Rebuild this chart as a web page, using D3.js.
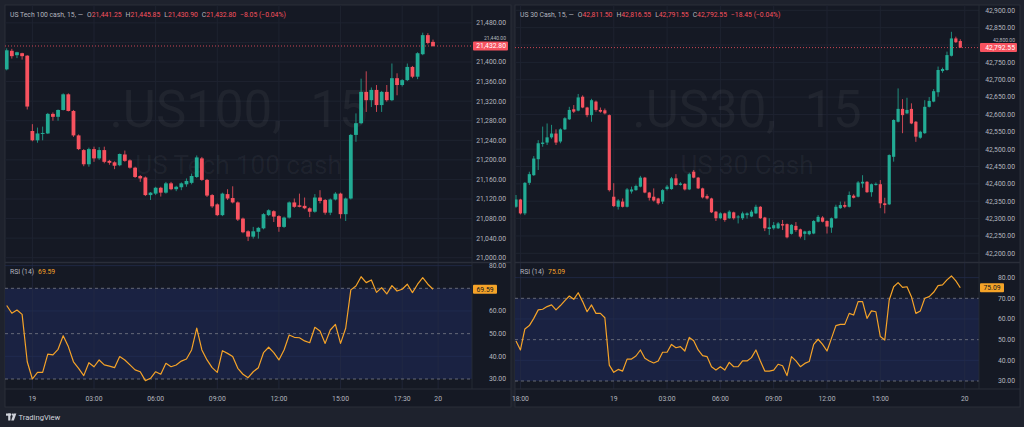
<!DOCTYPE html>
<html>
<head>
<meta charset="utf-8">
<script src="https://cdn.jsdelivr.net/npm/d3@7"></script>
<style>
html, body { margin: 0; padding: 0; background: #1e222d; }
svg { display: block; font-family: Roboto, "Liberation Sans", sans-serif; }
</style>
</head>
<body>
<div id="main"></div>
<script>
// US Tech 100 cash, 15 min candles [open, high, low, close]
var nasCandles = [
  [21385, 21428, 21383, 21424], [21423, 21427, 21407, 21412], [21414, 21421, 21408, 21420], [21418, 21419, 21405, 21412],
  [21413, 21414, 21303, 21309], [21259, 21273, 21238, 21240], [21240, 21266, 21235, 21254], [21253, 21268, 21240, 21255],
  [21254, 21296, 21253, 21294], [21294, 21297, 21280, 21288], [21288, 21303, 21280, 21302], [21302, 21336, 21301, 21334],
  [21334, 21336, 21299, 21300], [21300, 21302, 21247, 21250], [21250, 21252, 21220, 21222], [21220, 21222, 21187, 21191],
  [21191, 21225, 21186, 21222], [21222, 21227, 21196, 21203], [21203, 21226, 21200, 21220], [21220, 21227, 21193, 21196],
  [21198, 21200, 21190, 21194], [21195, 21197, 21181, 21188], [21189, 21213, 21187, 21212], [21211, 21219, 21196, 21198],
  [21199, 21201, 21182, 21184], [21184, 21186, 21163, 21165], [21167, 21169, 21155, 21162], [21164, 21166, 21126, 21128],
  [21128, 21134, 21118, 21133], [21131, 21145, 21128, 21143], [21143, 21145, 21125, 21133], [21133, 21155, 21131, 21152],
  [21152, 21155, 21138, 21140], [21140, 21147, 21136, 21145], [21144, 21154, 21138, 21152], [21150, 21162, 21145, 21157],
  [21153, 21172, 21150, 21167], [21165, 21209, 21163, 21205], [21203, 21206, 21157, 21159], [21159, 21161, 21124, 21127],
  [21128, 21130, 21102, 21105], [21109, 21111, 21085, 21087], [21087, 21133, 21085, 21131], [21130, 21140, 21118, 21121],
  [21122, 21146, 21111, 21113], [21113, 21115, 21075, 21078], [21080, 21082, 21050, 21052], [21054, 21056, 21034, 21043],
  [21043, 21063, 21039, 21054], [21053, 21063, 21039, 21061], [21060, 21091, 21058, 21089], [21087, 21099, 21085, 21097],
  [21095, 21097, 21073, 21084], [21085, 21087, 21053, 21063], [21063, 21084, 21061, 21082], [21082, 21115, 21080, 21113],
  [21113, 21121, 21102, 21104], [21107, 21131, 21103, 21104], [21106, 21123, 21099, 21101], [21101, 21103, 21083, 21094],
  [21094, 21130, 21092, 21123], [21123, 21138, 21111, 21116], [21118, 21120, 21088, 21092], [21092, 21121, 21087, 21119],
  [21119, 21134, 21117, 21131], [21131, 21133, 21080, 21089], [21089, 21123, 21075, 21121], [21121, 21253, 21119, 21251],
  [21251, 21295, 21237, 21275], [21275, 21366, 21273, 21339], [21339, 21381, 21298, 21322], [21322, 21348, 21308, 21343],
  [21343, 21353, 21298, 21312], [21312, 21341, 21298, 21339], [21339, 21353, 21319, 21322], [21322, 21397, 21320, 21367],
  [21367, 21377, 21332, 21353], [21353, 21365, 21350, 21363], [21363, 21397, 21361, 21390], [21390, 21392, 21367, 21370],
  [21370, 21420, 21365, 21418], [21416, 21460, 21414, 21455], [21455, 21459, 21436, 21439], [21441.25, 21445.85, 21430.90, 21432.80]
];
var nasRsi = [
  62.4, 59.0, 60.4, 58.5, 37.6, 30.0, 32.9, 32.9, 41.0, 40.6,
  43.1, 49.1, 44.3, 37.6, 34.7, 31.5, 37.2, 35.4, 38.4, 36.2,
  35.7, 35.0, 39.9, 38.4, 36.2, 34.0, 33.2, 29.3, 30.3, 33.2,
  32.1, 36.9, 35.4, 36.2, 37.9, 38.8, 42.8, 52.4, 42.8, 38.4,
  35.0, 32.9, 42.5, 41.3, 39.9, 34.7, 32.1, 30.6, 33.2, 35.0,
  41.6, 44.0, 41.6, 38.4, 42.8, 49.4, 48.4, 48.2, 46.8, 46.0,
  52.8, 51.2, 45.7, 51.6, 54.1, 45.7, 52.4, 69.3, 71.0, 75.1,
  72.5, 73.7, 68.2, 70.3, 67.5, 71.2, 68.8, 69.6, 71.8, 68.1,
  71.8, 74.7, 71.8, 69.59
];
var nasTimeTicks = [[5, "19"], [17, "03:00"], [29, "06:00"], [41, "09:00"], [53, "12:00"], [65, "15:00"], [77, "17:30"], [84, "20"]];
var nasPriceTicks = [21000, 21040, 21080, 21120, 21160, 21200, 21240, 21280, 21320, 21360, 21400, 21440, 21480];
var nasRsiTicks = [30, 40, 50, 60, 80];
var nasHeader = ["US Tech 100 cash, 15, \u2014", "21,441.25", "21,445.85", "21,430.90", "21,432.80", "\u22128.05 (\u22120.04%)"];
var nasWatermark = [".US100,", "15", "US Tech 100 cash"];

// US 30 Cash, 15 min candles [open, high, low, close]
var dowCandles = [
  [42334, 42368, 42331, 42355], [42355, 42357, 42312, 42315], [42315, 42405, 42310, 42403], [42403, 42435, 42397, 42428],
  [42425, 42480, 42423, 42473], [42471, 42526, 42440, 42517], [42515, 42565, 42507, 42519], [42519, 42574, 42512, 42534],
  [42534, 42570, 42530, 42545], [42545, 42557, 42512, 42519], [42522, 42560, 42517, 42557], [42557, 42592, 42555, 42589],
  [42586, 42622, 42584, 42613], [42615, 42627, 42604, 42608], [42611, 42659, 42609, 42649], [42651, 42655, 42618, 42620],
  [42620, 42622, 42592, 42598], [42598, 42645, 42579, 42641], [42637, 42640, 42608, 42613], [42613, 42620, 42605, 42608],
  [42612, 42617, 42600, 42603], [42598, 42600, 42378, 42382], [42363, 42402, 42333, 42336], [42334, 42356, 42326, 42352],
  [42349, 42358, 42332, 42334], [42334, 42388, 42332, 42384], [42378, 42392, 42372, 42384], [42382, 42398, 42380, 42394],
  [42392, 42423, 42390, 42418], [42418, 42420, 42373, 42375], [42375, 42377, 42352, 42360], [42363, 42387, 42349, 42352],
  [42358, 42360, 42340, 42344], [42349, 42385, 42342, 42382], [42385, 42397, 42381, 42392], [42385, 42420, 42383, 42416],
  [42416, 42428, 42395, 42397], [42397, 42405, 42395, 42401], [42400, 42402, 42381, 42384], [42384, 42432, 42382, 42428],
  [42435, 42440, 42416, 42418], [42418, 42420, 42385, 42387], [42387, 42389, 42358, 42361], [42365, 42370, 42355, 42358],
  [42358, 42360, 42316, 42318], [42320, 42322, 42293, 42301], [42301, 42318, 42298, 42315], [42315, 42317, 42291, 42296],
  [42301, 42324, 42299, 42320], [42318, 42320, 42297, 42301], [42305, 42310, 42286, 42306], [42301, 42320, 42296, 42315],
  [42310, 42318, 42300, 42315], [42306, 42325, 42304, 42320], [42315, 42340, 42313, 42334], [42334, 42336, 42299, 42301],
  [42303, 42305, 42264, 42272], [42270, 42301, 42253, 42275], [42272, 42290, 42268, 42281], [42272, 42290, 42270, 42286],
  [42284, 42296, 42267, 42280], [42284, 42286, 42243, 42246], [42256, 42284, 42254, 42282], [42279, 42290, 42262, 42267],
  [42269, 42271, 42243, 42248], [42256, 42265, 42238, 42263], [42255, 42266, 42252, 42264], [42257, 42296, 42255, 42293],
  [42291, 42310, 42289, 42305], [42303, 42307, 42289, 42291], [42293, 42295, 42257, 42277], [42274, 42303, 42259, 42301],
  [42301, 42340, 42299, 42334], [42330, 42349, 42328, 42339], [42339, 42349, 42330, 42334], [42334, 42378, 42332, 42368],
  [42366, 42370, 42358, 42360], [42363, 42408, 42361, 42404], [42401, 42425, 42389, 42406], [42406, 42408, 42374, 42376],
  [42376, 42401, 42363, 42399], [42397, 42404, 42395, 42400], [42399, 42411, 42330, 42344], [42344, 42360, 42315, 42339],
  [42341, 42485, 42339, 42483], [42478, 42586, 42464, 42584], [42579, 42675, 42577, 42616], [42616, 42644, 42546, 42598],
  [42603, 42648, 42601, 42613], [42616, 42632, 42572, 42574], [42579, 42581, 42521, 42536], [42533, 42553, 42530, 42550],
  [42546, 42641, 42544, 42622], [42622, 42650, 42620, 42639], [42637, 42673, 42635, 42667], [42664, 42738, 42651, 42728],
  [42725, 42735, 42720, 42731], [42728, 42781, 42726, 42771], [42769, 42838, 42767, 42819], [42819, 42824, 42806, 42808],
  [42811.50, 42816.55, 42791.55, 42792.55]
];
var dowRsi = [
  49.4, 45.0, 55.2, 56.8, 60.3, 64.4, 64.7, 66.0, 66.8, 64.4,
  66.5, 68.9, 71.1, 69.5, 72.7, 68.4, 63.5, 66.8, 62.7, 62.7,
  60.6, 37.7, 34.2, 35.6, 34.8, 40.6, 40.6, 42.1, 45.0, 41.0,
  39.7, 38.7, 39.7, 43.9, 43.9, 47.7, 46.1, 46.6, 44.5, 51.1,
  49.5, 45.0, 42.3, 41.8, 36.9, 35.3, 36.9, 35.3, 39.0, 36.9,
  36.9, 39.7, 39.7, 41.3, 45.0, 39.7, 34.8, 34.8, 35.3, 38.1,
  37.4, 32.6, 41.8, 39.7, 36.9, 38.5, 39.4, 47.7, 50.2, 47.7,
  44.5, 50.6, 56.8, 57.4, 57.4, 62.7, 61.9, 68.4, 68.4, 60.3,
  63.9, 63.5, 51.5, 49.8, 69.2, 75.6, 77.6, 75.3, 75.6, 70.8,
  62.7, 63.9, 70.0, 70.8, 72.9, 76.1, 76.5, 78.9, 80.8, 78.4,
  75.09
];
var dowTimeTicks = [[1, "18:00"], [22, "19"], [34, "03:00"], [46, "06:00"], [58, "09:00"], [70, "12:00"], [82, "15:00"], [101, "20"]];
var dowPriceTicks = [42200, 42250, 42300, 42350, 42400, 42450, 42500, 42550, 42600, 42650, 42700, 42750, 42800, 42850, 42900];
var dowRsiTicks = [30, 40, 50, 60, 70, 80];
var dowHeader = ["US 30 Cash, 15, \u2014", "42,811.50", "42,816.55", "42,791.55", "42,792.55", "\u221218.45 (\u22120.04%)"];
var dowWatermark = [".US30,", "15", "US 30 Cash"];

var rsiLevels = [30, 50, 70];

var ctx = {
    w: 1024,
    h: 427,
    top: 5,
    sep: 262.5,
    timeTop: 389,
    bottom: 407,
    bg: "#151924",
    border: "#2a2e39",
    grid: "#1e2330",
    text: "#b2b5be",
    up: "#22ab94",
    down: "#f7525f",
    rsi: "#f5a328",
    band: "#1a2242",
    font: 6.8
};

var fmt = d3.format(",.2f");

var drawPanel = function(svg, p) {
    var x = d3.scaleLinear().domain([0, p.candles.length - 1]).range(p.xRange);
    var y = d3.scaleLinear().domain(p.priceDomain).range(p.priceRange);
    var yr = d3.scaleLinear().domain([30, 70]).range(p.rsiRange);
    var chartW = p.axisX - p.left;
    var defs = svg.select("defs");

    // panel background and frame
    svg.append("rect")
        .attr("x", p.left).attr("y", ctx.top)
        .attr("width", p.right - p.left).attr("height", ctx.bottom - ctx.top)
        .attr("fill", ctx.bg).attr("stroke", ctx.border).attr("stroke-width", 1);

    defs.append("clipPath").attr("id", p.id + "-price").append("rect")
        .attr("x", p.left).attr("y", ctx.top).attr("width", chartW).attr("height", ctx.sep - ctx.top);
    defs.append("clipPath").attr("id", p.id + "-rsi").append("rect")
        .attr("x", p.left).attr("y", ctx.sep).attr("width", chartW).attr("height", ctx.timeTop - ctx.sep);
    defs.append("clipPath").attr("id", p.id + "-rsiaxis").append("rect")
        .attr("x", p.axisX).attr("y", ctx.sep + 0.5).attr("width", p.right - p.axisX).attr("height", ctx.timeTop - ctx.sep);

    // ---- price pane
    var pane = svg.append("g").attr("clip-path", "url(#" + p.id + "-price)");

    pane.selectAll(".hgrid").data(p.priceTicks).enter().append("line")
        .attr("x1", p.left).attr("x2", p.axisX)
        .attr("y1", function(d) { return y(d); }).attr("y2", function(d) { return y(d); })
        .attr("stroke", ctx.grid).attr("stroke-width", 1);
    pane.selectAll(".vgrid").data(p.timeTicks).enter().append("line")
        .attr("x1", function(d) { return x(d[0]); }).attr("x2", function(d) { return x(d[0]); })
        .attr("y1", ctx.top).attr("y2", ctx.sep)
        .attr("stroke", ctx.grid).attr("stroke-width", 1);

    // watermark (wide gap after the comma, like the original)
    var cx = (p.left + p.axisX) / 2;
    var wm = pane.append("text").attr("x", cx).attr("y", 127).attr("text-anchor", "middle")
        .attr("font-size", 51).attr("fill", "#b2b5be").attr("fill-opacity", 0.07);
    wm.append("tspan").text(p.watermark[0]);
    wm.append("tspan").attr("dx", 28).text(p.watermark[1]);
    pane.append("text").attr("x", cx).attr("y", 174).attr("text-anchor", "middle")
        .attr("font-size", 26).attr("fill", "#b2b5be").attr("fill-opacity", 0.07)
        .text(p.watermark[2]);

    // candles
    var color = function(d) { return d[3] >= d[0] ? ctx.up : ctx.down; };
    var candle = pane.selectAll(".candle").data(p.candles).enter().append("g");
    candle.append("line")
        .attr("x1", function(d, i) { return x(i); }).attr("x2", function(d, i) { return x(i); })
        .attr("y1", function(d) { return y(d[1]); }).attr("y2", function(d) { return y(d[2]); })
        .attr("stroke", color).attr("stroke-width", 0.8);
    candle.append("rect")
        .attr("x", function(d, i) { return x(i) - p.bodyW / 2; })
        .attr("width", p.bodyW)
        .attr("y", function(d) { return y(Math.max(d[0], d[3])); })
        .attr("height", function(d) { return Math.max(1, Math.abs(y(d[0]) - y(d[3]))); })
        .attr("fill", color);

    // last price line
    var last = p.candles[p.candles.length - 1][3];
    pane.append("line")
        .attr("x1", p.left).attr("x2", p.axisX)
        .attr("y1", y(last)).attr("y2", y(last))
        .attr("stroke", ctx.down).attr("stroke-width", 0.8).attr("stroke-dasharray", "1,2");

    // price axis: the label sitting under the last-price tag peeks out above it
    svg.selectAll(".plabel-" + p.id).data(p.priceTicks).enter().append("text")
        .attr("x", p.right - 5)
        .attr("y", function(d) { return Math.abs(y(d) - y(last)) < 7 ? y(last) - 7.5 : y(d); })
        .attr("dy", "0.35em").attr("text-anchor", "end")
        .attr("font-size", function(d) { return Math.abs(y(d) - y(last)) < 7 ? 5 : ctx.font; })
        .attr("fill", ctx.text)
        .text(function(d) { return fmt(d); });
    svg.append("rect")
        .attr("x", p.axisX + 1).attr("y", y(last) - 4.5)
        .attr("width", p.right - p.axisX - 4).attr("height", 9).attr("rx", 1)
        .attr("fill", ctx.down);
    svg.append("text")
        .attr("x", p.right - 5).attr("y", y(last)).attr("dy", "0.35em").attr("text-anchor", "end")
        .attr("font-size", ctx.font).attr("fill", "#ffffff")
        .text(fmt(last));

    // header
    var head = svg.append("text").attr("x", p.left + 5).attr("y", 16.5)
        .attr("font-size", ctx.font).attr("fill", ctx.text);
    head.append("tspan").text(p.header[0]);
    ["O", "H", "L", "C"].forEach(function(k, i) {
        head.append("tspan").attr("dx", 4).attr("fill", ctx.text).text(k);
        head.append("tspan").attr("fill", ctx.down).text(p.header[i + 1]);
    });
    head.append("tspan").attr("dx", 4).attr("fill", ctx.down).text(p.header[5]);

    // pane separator
    svg.append("line")
        .attr("x1", p.left).attr("x2", p.right)
        .attr("y1", ctx.sep).attr("y2", ctx.sep)
        .attr("stroke", ctx.border).attr("stroke-width", 1.5);

    // ---- RSI pane
    var rp = svg.append("g").attr("clip-path", "url(#" + p.id + "-rsi)");
    rp.append("rect")
        .attr("x", p.left).attr("width", chartW)
        .attr("y", yr(70)).attr("height", yr(30) - yr(70))
        .attr("fill", ctx.band);
    rp.selectAll(".rgrid").data([40, 60, 80]).enter().append("line")
        .attr("x1", p.left).attr("x2", p.axisX)
        .attr("y1", function(d) { return yr(d); }).attr("y2", function(d) { return yr(d); })
        .attr("stroke", "#243056").attr("stroke-opacity", 0.6).attr("stroke-width", 1);
    rp.selectAll(".rvgrid").data(p.timeTicks).enter().append("line")
        .attr("x1", function(d) { return x(d[0]); }).attr("x2", function(d) { return x(d[0]); })
        .attr("y1", ctx.sep).attr("y2", ctx.timeTop)
        .attr("stroke", "#262d45").attr("stroke-opacity", 0.6).attr("stroke-width", 1);
    rp.selectAll(".level").data(rsiLevels).enter().append("line")
        .attr("x1", p.left).attr("x2", p.axisX)
        .attr("y1", function(d) { return yr(d); }).attr("y2", function(d) { return yr(d); })
        .attr("stroke", "#787b86").attr("stroke-width", 0.8).attr("stroke-dasharray", "3,3");
    rp.append("path")
        .datum(p.rsi)
        .attr("d", d3.line().x(function(d, i) { return x(i); }).y(function(d) { return yr(d); }))
        .attr("fill", "none").attr("stroke", ctx.rsi).attr("stroke-width", 1.2)
        .attr("stroke-linejoin", "round");

    // RSI axis
    var lastRsi = p.rsi[p.rsi.length - 1];
    svg.append("g").attr("clip-path", "url(#" + p.id + "-rsiaxis)")
        .selectAll("text").data(p.rsiTicks).enter().append("text")
        .attr("x", p.right - 5).attr("y", function(d) { return yr(d); })
        .attr("dy", "0.35em").attr("text-anchor", "end")
        .attr("font-size", ctx.font).attr("fill", ctx.text)
        .text(function(d) { return fmt(d); });
    svg.append("rect")
        .attr("x", p.axisX + 1).attr("y", yr(lastRsi) - 4.5)
        .attr("width", 24).attr("height", 9).attr("rx", 1)
        .attr("fill", ctx.rsi);
    svg.append("text")
        .attr("x", p.axisX + 13).attr("y", yr(lastRsi)).attr("dy", "0.35em").attr("text-anchor", "middle")
        .attr("font-size", ctx.font).attr("fill", "#131722")
        .text(fmt(lastRsi));

    var rl = svg.append("text").attr("x", p.left + 5).attr("y", 273.5)
        .attr("font-size", ctx.font).attr("fill", ctx.text);
    rl.append("tspan").text("RSI (14)");
    rl.append("tspan").attr("dx", 4).attr("fill", ctx.rsi).text(fmt(lastRsi));

    // ---- time axis
    svg.append("line")
        .attr("x1", p.left).attr("x2", p.right)
        .attr("y1", ctx.timeTop).attr("y2", ctx.timeTop)
        .attr("stroke", ctx.border).attr("stroke-width", 1);
    svg.append("line")
        .attr("x1", p.axisX).attr("x2", p.axisX)
        .attr("y1", ctx.top).attr("y2", ctx.timeTop)
        .attr("stroke", ctx.border).attr("stroke-width", 0.8);
    svg.selectAll(".tlabel-" + p.id).data(p.timeTicks).enter().append("text")
        .attr("x", function(d) { return x(d[0]); }).attr("y", 399)
        .attr("dy", "0.35em").attr("text-anchor", "middle")
        .attr("font-size", ctx.font).attr("fill", ctx.text)
        .text(function(d) { return d[1]; });
};

var createViz = function() {
    var svg = d3.select("#main").append("svg")
        .attr("width", ctx.w).attr("height", ctx.h);
    svg.append("defs");
    svg.append("rect").attr("width", ctx.w).attr("height", ctx.h).attr("fill", "#1e222d");

    drawPanel(svg, {
        id: "nas", left: 5, right: 511, axisX: 472,
        candles: nasCandles, rsi: nasRsi, timeTicks: nasTimeTicks, priceTicks: nasPriceTicks,
        rsiTicks: nasRsiTicks, header: nasHeader, watermark: nasWatermark,
        xRange: [6.7, 433], priceDomain: [21000, 21480], priceRange: [257.7, 22.9],
        rsiRange: [379, 288.3], bodyW: 3.8
    });
    drawPanel(svg, {
        id: "dow", left: 515, right: 1020, axisX: 979,
        candles: dowCandles, rsi: dowRsi, timeTicks: dowTimeTicks, priceTicks: dowPriceTicks,
        rsiTicks: dowRsiTicks, header: dowHeader, watermark: dowWatermark,
        xRange: [516, 960.3], priceDomain: [42200, 42900], priceRange: [253.3, 10.3],
        rsiRange: [381, 298.3], bodyW: 3.2
    });

    // TradingView mark
    var logo = svg.append("g").attr("fill", "#d1d4dc");
    logo.append("rect").attr("x", 6).attr("y", 413.5).attr("width", 5).attr("height", 2.2);
    logo.append("rect").attr("x", 8.2).attr("y", 413.5).attr("width", 2.2).attr("height", 7);
    logo.append("circle").attr("cx", 12.6).attr("cy", 414.6).attr("r", 1.1);
    logo.append("path").attr("d", "M13.6,413.5 L16.4,413.5 L13.8,420.5 L11.2,420.5 Z");
    svg.append("text").attr("x", 18.5).attr("y", 420)
        .attr("font-size", 7.6).attr("fill", "#d1d4dc")
        .text("TradingView");
};

createViz();
</script>
</body>
</html>
